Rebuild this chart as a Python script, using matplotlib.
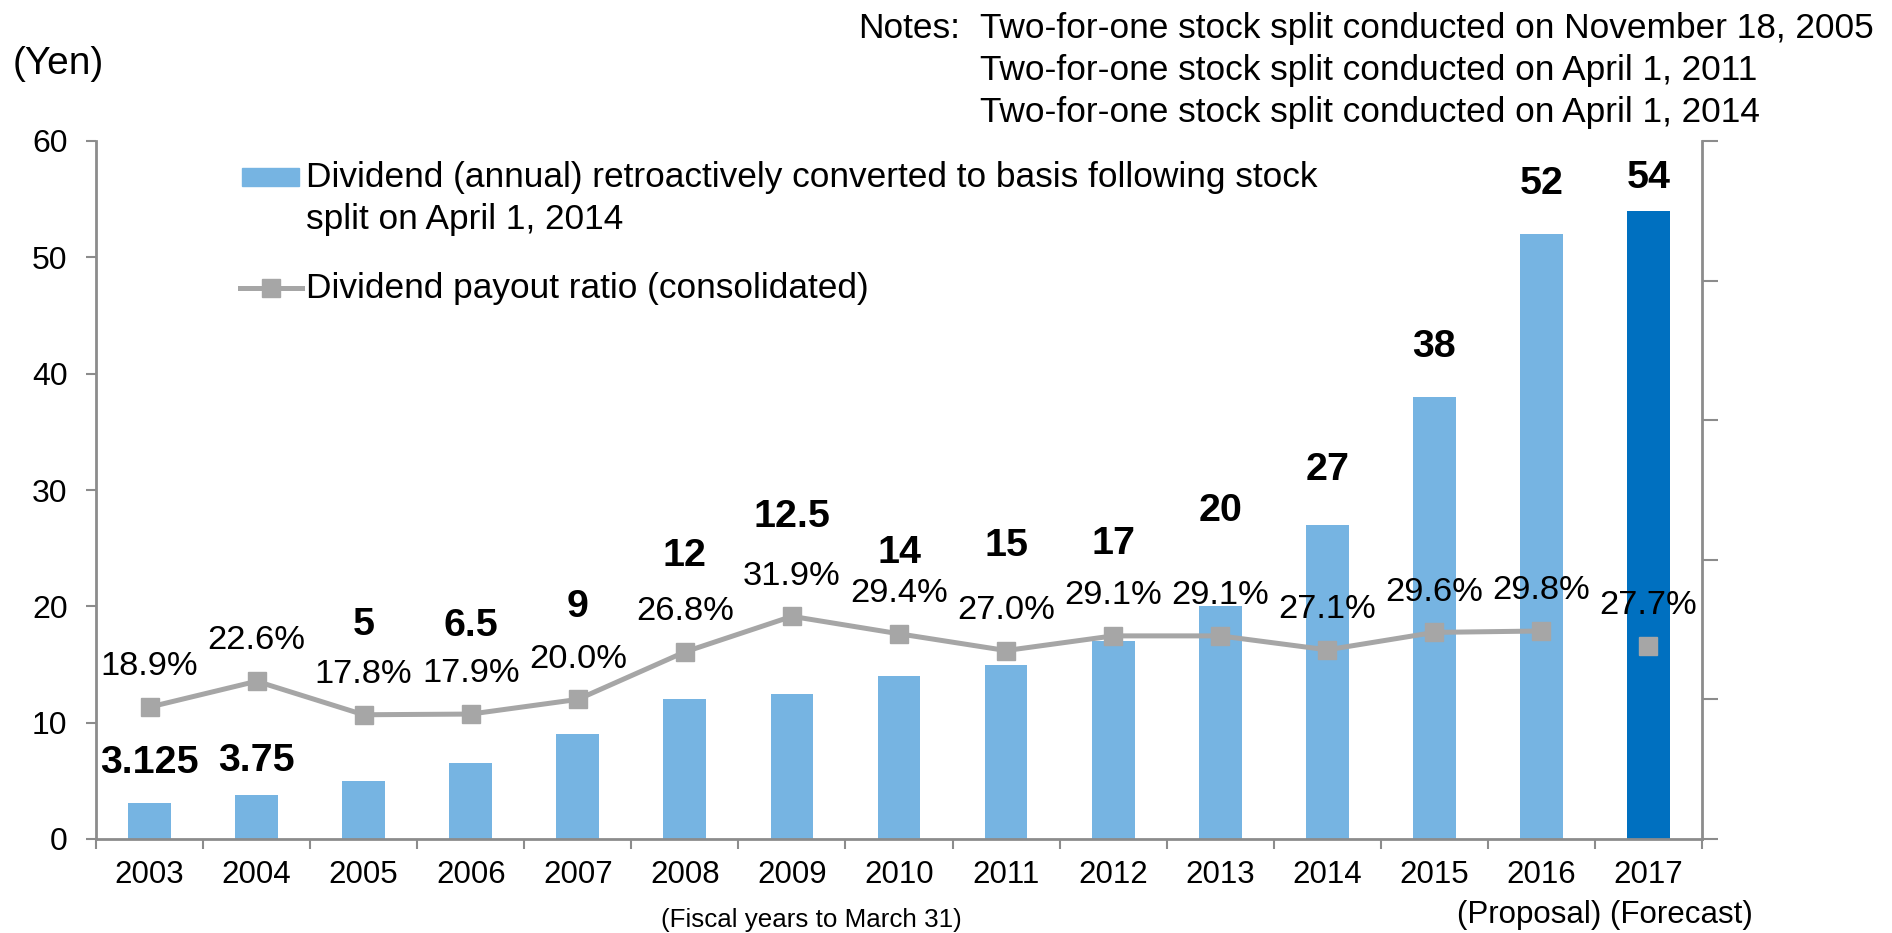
import numpy as np
import matplotlib.pyplot as plt
from matplotlib.patches import Rectangle
from matplotlib.lines import Line2D

plt.rcParams['font.family'] = ['Liberation Sans', 'DejaVu Sans']

years = ['2003', '2004', '2005', '2006', '2007', '2008', '2009', '2010',
         '2011', '2012', '2013', '2014', '2015', '2016', '2017']
dividend = [3.125, 3.75, 5, 6.5, 9, 12, 12.5, 14, 15, 17, 20, 27, 38, 52, 54]
dividend_text = ['3.125', '3.75', '5', '6.5', '9', '12', '12.5', '14', '15',
                 '17', '20', '27', '38', '52', '54']
payout = [18.9, 22.6, 17.8, 17.9, 20.0, 26.8, 31.9, 29.4, 27.0, 29.1, 29.1,
          27.1, 29.6, 29.8, 27.7]
# hand placed heights (yen) of the bold labels, as in the original slide
label_y = [6.5, 6.7, 18.4, 18.3, 19.9, 24.3, 27.7, 24.6, 25.2, 25.4, 28.2,
           31.7, 42.3, 56.3, 56.8]

notes = ['Two-for-one stock split conducted on November 18, 2005',
         'Two-for-one stock split conducted on April 1, 2011',
         'Two-for-one stock split conducted on April 1, 2014']

light_blue = '#76B4E2'
dark_blue = '#0070C0'
line_gray = '#A6A6A6'
axis_gray = '#8C8C8C'

W, H = 1892, 933


def fx(px):
    return px / W


def fy(py):
    return 1 - py / H


fig = plt.figure(figsize=(W / 100, H / 100), dpi=100)
ax = fig.add_axes([fx(96), fy(839), (1702 - 96) / W, (839 - 141) / H])

x = np.arange(len(years))
colors = [light_blue] * (len(years) - 1) + [dark_blue]
ax.bar(x, dividend, width=0.4, color=colors, zorder=2)

ax.set_xlim(-0.5, len(years) - 0.5)
ax.set_ylim(0, 60)
ax.set_yticks(range(0, 61, 10))
ax.set_xticks(np.arange(-0.5, len(years), 1))
ax.set_xticklabels([])
ax.set_xticks(x, minor=True)
ax.set_xticklabels(years, minor=True)
ax.tick_params(axis='x', which='major', length=7, width=1.5, color=axis_gray)
ax.tick_params(axis='x', which='minor', length=0, pad=15, labelsize=22.5)
ax.tick_params(axis='y', length=7.5, width=1.5, color=axis_gray, pad=13, labelsize=23)
for s in ['top', 'right']:
    ax.spines[s].set_visible(False)
for s in ['left', 'bottom']:
    ax.spines[s].set_color(axis_gray)
    ax.spines[s].set_linewidth(2)

for i, (v, t) in enumerate(zip(label_y, dividend_text)):
    ax.text(i, v, t, ha='center', va='center', fontsize=28.4, fontweight='bold', zorder=5)

ax2 = ax.twinx()
ax2.set_ylim(0, 100)
ax2.set_yticks(range(0, 101, 20))
ax2.set_yticklabels([])
ax2.tick_params(axis='y', length=11.5, width=1.5, color=axis_gray)
for s in ['top', 'left', 'bottom']:
    ax2.spines[s].set_visible(False)
ax2.spines['right'].set_color(axis_gray)
ax2.spines['right'].set_linewidth(2)

ax2.plot(x[:-1], payout[:-1], color=line_gray, lw=3.6, marker='s', ms=12.5,
         mec=line_gray, mfc=line_gray, zorder=3)
ax2.plot(x[-1:], payout[-1:], ls='none', marker='s', ms=12.5, color=line_gray, zorder=3)
for i, v in enumerate(payout):
    ax2.annotate(f'{v:.1f}%', (i, v), xytext=(0, 29), textcoords='offset points',
                 ha='center', va='center', fontsize=24.8)

# legend drawn by hand so the swatch sits on the first line of the wrapped label
fig.patches.append(Rectangle((fx(242), fy(186)), 57 / W, 18 / H, color=light_blue,
                             transform=fig.transFigure, figure=fig))
fig.text(fx(306), fy(187), 'Dividend (annual) retroactively converted to basis following stock',
         fontsize=25.4, va='baseline')
fig.text(fx(306), fy(229), 'split on April 1, 2014', fontsize=25.4, va='baseline')
fig.lines.append(Line2D([fx(240), fx(302)], [fy(287.5), fy(287.5)], color=line_gray, lw=3.6,
                        transform=fig.transFigure, figure=fig))
fig.lines.append(Line2D([fx(271)], [fy(287.5)], marker='s', ms=12.5, color=line_gray,
                        transform=fig.transFigure, figure=fig))
fig.text(fx(306), fy(298), 'Dividend payout ratio (consolidated)', fontsize=25.4, va='baseline')

fig.text(fx(13), fy(74), '(Yen)', fontsize=28, va='baseline')
fig.text(fx(858), fy(38), 'Notes:', fontsize=25.4, va='baseline')
for k, line in enumerate(notes):
    fig.text(fx(980), fy(38 + 42 * k), line, fontsize=25.4, va='baseline')

fig.text(fx(1457), fy(923), '(Proposal) (Forecast)', fontsize=22.5, va='baseline')
fig.text(fx(811), fy(927), '(Fiscal years to March 31)', fontsize=18.7, ha='center', va='baseline')

fig.savefig('out.png', dpi=100)
